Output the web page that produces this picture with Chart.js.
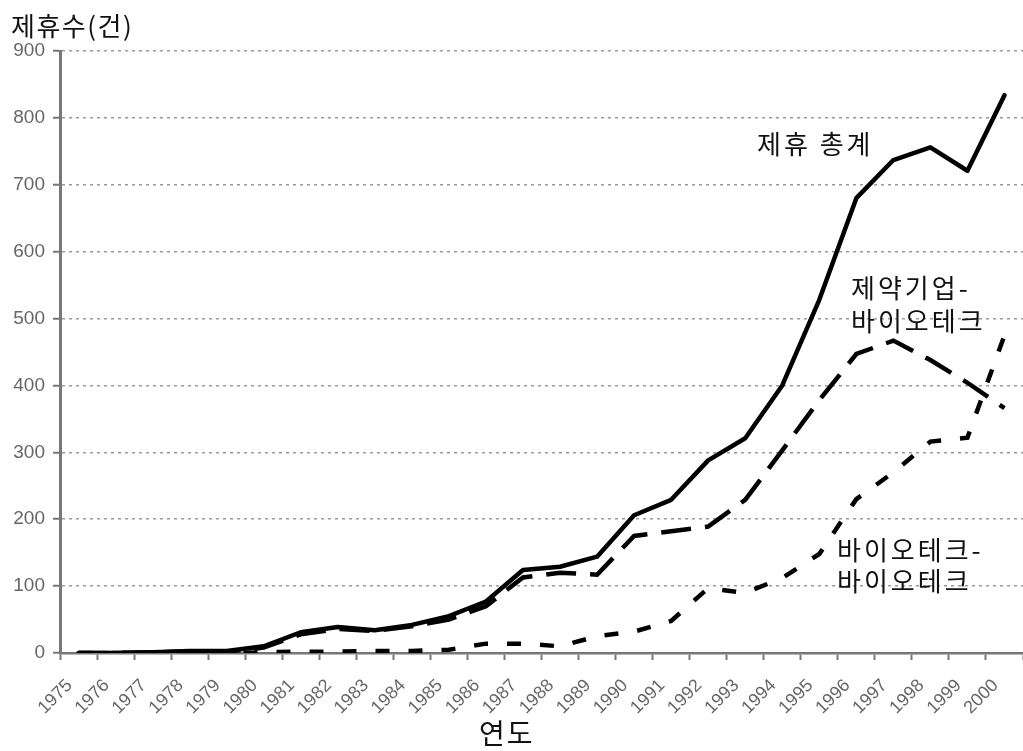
<!DOCTYPE html>
<html>
<head>
<meta charset="utf-8">
<script src="https://cdn.jsdelivr.net/npm/chart.js@4"></script>
<style>
  html, body { margin: 0; padding: 0; background: #fff; }
  #wrap { width: 1023px; height: 751px; }
</style>
</head>
<body>
<div id="wrap"><canvas id="alliance_chart"></canvas></div>
<script>
const years = ['1975', '1976', '1977', '1978', '1979', '1980', '1981', '1982', '1983',
    '1984', '1985', '1986', '1987', '1988', '1989', '1990', '1991', '1992', '1993',
    '1994', '1995', '1996', '1997', '1998', '1999', '2000'];

// 제휴 총계
const total_alliances = [0, 0, 1, 3, 3, 10, 31, 39, 34, 42, 55, 77, 124, 129, 144,
    206, 229, 288, 321, 400, 528, 680, 737, 756, 721, 834];

// 제약기업-바이오테크
const pharma_biotech = [0, 0, 1, 2, 2, 8, 28, 36, 33, 40, 50, 70, 113, 120, 117,
    175, 182, 189, 229, 303, 378, 447, 467, 438, 404, 366];

// 바이오테크-바이오테크
const biotech_biotech = [0, 0, 0, 0, 0, 1, 2, 2, 3, 3, 5, 14, 14, 10, 25,
    32, 48, 97, 90, 112, 148, 230, 270, 316, 322, 475];

const y_ticks = [0, 100, 200, 300, 400, 500, 600, 700, 800, 900];

const KR_FONT = '"Noto Sans CJK KR", "Noto Sans", sans-serif';

// labels drawn on the canvas (axis titles and series names)
const text_labels = {
    id: 'text_labels',
    afterDraw(chart) {
        const ctx = chart.ctx;
        ctx.save();
        ctx.fillStyle = '#111';
        ctx.textBaseline = 'middle';
        ctx.textAlign = 'left';

        ctx.font = '26px ' + KR_FONT;
        ctx.letterSpacing = '1.5px';
        ctx.fillText('제휴수(건)', 11, 26);

        ctx.font = '28px ' + KR_FONT;
        ctx.letterSpacing = '2px';
        ctx.fillText('연도', 479, 733);

        ctx.font = '26px ' + KR_FONT;
        ctx.letterSpacing = '3px';
        ctx.fillText('제휴 총계', 757, 144);
        ctx.fillText('제약기업-', 851, 288);
        ctx.fillText('바이오테크', 851, 321);
        ctx.fillText('바이오테크-', 837, 550);
        ctx.fillText('바이오테크', 837, 581);
        ctx.restore();
    }
};

const data_alliances = {
    labels: years,
    datasets: [{
        label: '제휴 총계',
        data: total_alliances,
        borderColor: '#000',
        borderWidth: 4.5,
        borderCapStyle: 'round',
        borderJoinStyle: 'round'
    }, {
        label: '제약기업-바이오테크',
        data: pharma_biotech,
        borderColor: '#000',
        borderWidth: 4.5,
        borderDash: [30, 14]
    }, {
        label: '바이오테크-바이오테크',
        data: biotech_biotech,
        borderColor: '#000',
        borderWidth: 4.5,
        borderDash: [14, 19]
    }]
};

const config_alliances = {
    type: 'line',
    data: data_alliances,
    options: {
        responsive: true,
        maintainAspectRatio: false,
        animation: false,
        layout: { padding: { top: 51, right: 0, left: 0, bottom: 0 } },
        elements: {
            point: { radius: 0 },
            line: { tension: 0, fill: false }
        },
        plugins: {
            legend: { display: false },
            tooltip: { enabled: false }
        },
        scales: {
            x: {
                type: 'category',
                offset: true,
                grid: {
                    offset: true,
                    drawOnChartArea: false,
                    drawTicks: true,
                    tickLength: 7,
                    tickColor: '#777',
                    tickWidth: 2
                },
                border: { color: '#777', width: 2.5 },
                ticks: {
                    autoSkip: false,
                    minRotation: 45,
                    maxRotation: 45,
                    labelOffset: -9,
                    padding: 15,
                    color: '#666',
                    font: { family: '"Liberation Sans", Arial, sans-serif', size: 18 }
                },
                afterFit(scale) {
                    scale.height = 98;
                    scale.paddingLeft = 0;
                    scale.paddingRight = 0;
                }
            },
            y: {
                min: 0,
                max: 900,
                afterBuildTicks(scale) {
                    scale.ticks = y_ticks.map(v => ({ value: v }));
                },
                grid: {
                    color: '#9a9a9a',
                    lineWidth: 1.5,
                    tickLength: 7,
                    tickColor: '#777',
                    tickWidth: 2,
                    tickBorderDash: []
                },
                border: { color: '#777', width: 3, dash: [3, 4] },
                ticks: {
                    padding: 8,
                    color: '#666',
                    font: { family: '"Liberation Sans", Arial, sans-serif', size: 19 }
                },
                afterFit(scale) {
                    scale.width = 60;
                    scale.paddingTop = 0;
                    scale.paddingBottom = 0;
                }
            }
        }
    },
    plugins: [text_labels]
};

const grafico_alliances = new Chart(
    document.getElementById('alliance_chart'),
    config_alliances
);
</script>
</body>
</html>
